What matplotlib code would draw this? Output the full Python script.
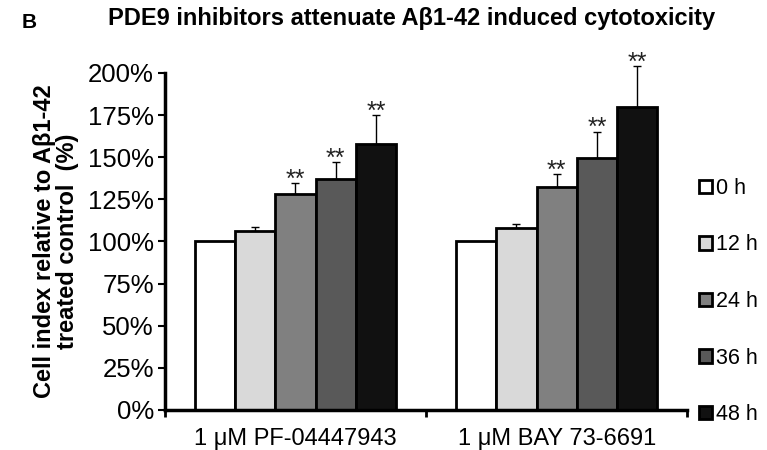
import matplotlib
matplotlib.use("Agg")
import matplotlib.pyplot as plt
from matplotlib.patches import Patch
import numpy as np

plt.rcParams["font.family"] = ["Liberation Sans", "DejaVu Sans"]

groups = ["1 μM PF-04447943", "1 μM BAY 73-6691"]
times = ["0 h", "12 h", "24 h", "36 h", "48 h"]
colors = ["#ffffff", "#d9d9d9", "#808080", "#595959", "#111111"]

# rows: time points, cols: groups (%)
values = [
    [100.0, 100.0],
    [106.4, 108.0],
    [128.2, 132.5],
    [136.9, 149.3],
    [158.0, 180.0],
]
errors = [
    [0.0, 0.0],
    [2.0, 2.5],
    [6.3, 7.4],
    [10.0, 15.8],
    [17.0, 24.0],
]
stars = [
    ["", ""],
    ["", ""],
    ["**", "**"],
    ["**", "**"],
    ["**", "**"],
]

fig = plt.figure(figsize=(7.67, 4.5), dpi=100)
ax = fig.add_axes([0.215, 0.089, 0.681, 0.749])

x = np.arange(len(groups))
width = 0.154
n = len(times)
for i in range(n):
    pos = x + (i - (n - 1) / 2) * width
    ax.bar(pos, values[i], width, color=colors[i], edgecolor="black",
           linewidth=2, zorder=2)
    errs = np.array(errors[i])
    if errs.any():
        ax.errorbar(pos, values[i], yerr=[np.zeros_like(errs), errs], fmt="none",
                    ecolor="black", elinewidth=1, capsize=3, capthick=1,
                    zorder=1, clip_on=False)
    for j in range(len(groups)):
        if stars[i][j]:
            ax.text(pos[j], values[i][j] + errors[i][j] - 2.0, stars[i][j],
                    ha="center", va="baseline", fontsize=18, color="#222222")

ax.set_xlim(-0.5, 1.5)
ax.set_ylim(0, 200)
ax.set_yticks(np.arange(0, 201, 25))
ax.set_yticklabels([f"{v}%" for v in range(0, 201, 25)], fontsize=18.5)
ax.set_xticks([-0.5, 0.5, 1.5])
ax.set_xticklabels([])
ax.set_xticks(x, minor=True)
ax.set_xticklabels(groups, minor=True, fontsize=17)
ax.tick_params(axis="x", which="minor", length=0, pad=13)
ax.tick_params(axis="x", which="major", length=5, width=2, direction="out")
ax.tick_params(axis="y", length=5, width=1.5, direction="out", pad=3)
for s in ["top", "right"]:
    ax.spines[s].set_visible(False)
for s in ["left", "bottom"]:
    ax.spines[s].set_linewidth(2.5)

ax.set_ylabel("Cell index relative to Aβ1-42\ntreated control  (%)",
              fontsize=17, fontweight="bold", labelpad=6, linespacing=1.05)

fig.text(0.141, 0.96, "PDE9 inhibitors attenuate Aβ1-42 induced cytotoxicity",
         fontsize=17, fontweight="bold", va="center")
fig.text(0.028, 0.951, "B", fontsize=15, fontweight="bold", va="center")

handles = [Patch(facecolor=c, edgecolor="black", linewidth=2) for c in colors]
fig.legend(handles, times, loc="center left", bbox_to_anchor=(0.9, 0.33),
           frameon=False, fontsize=15.5, handlelength=0.6, handleheight=0.6,
           handletextpad=0.2, labelspacing=1.65, borderaxespad=0)

fig.savefig("out.png", dpi=100)
